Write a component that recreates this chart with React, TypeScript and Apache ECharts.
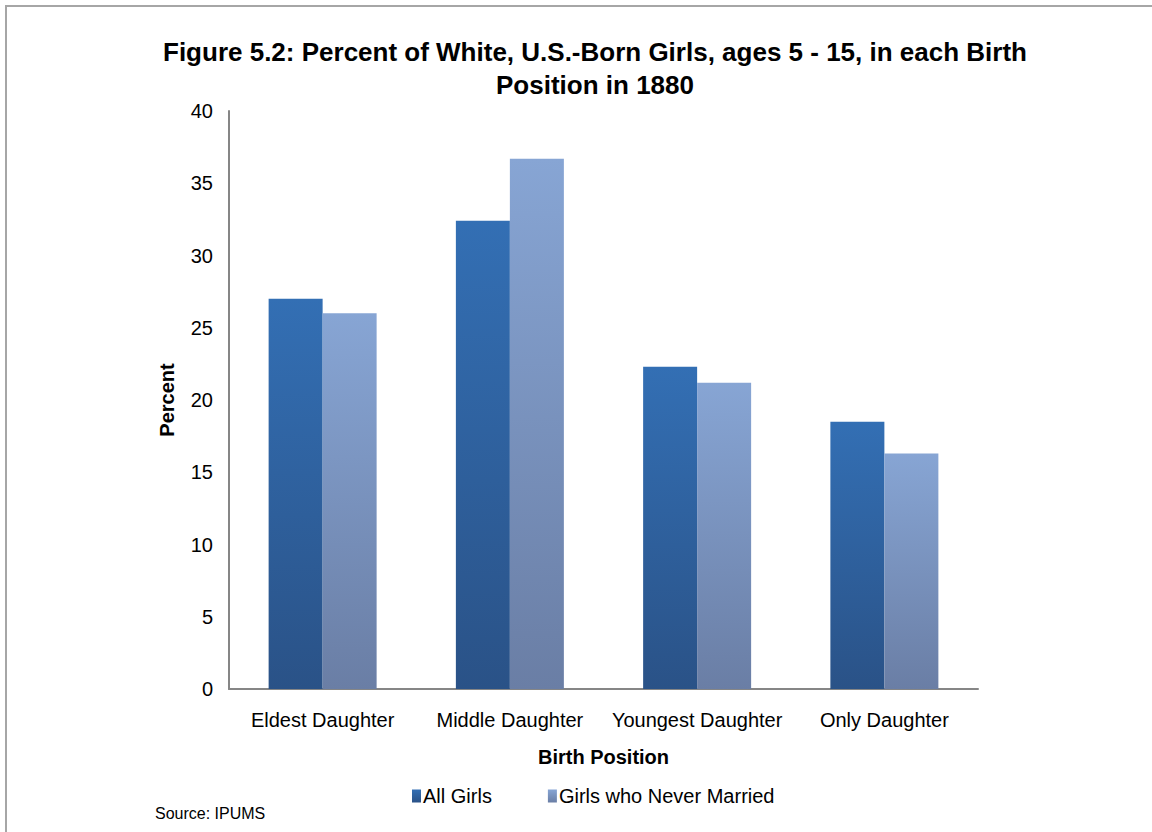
import React, { useEffect, useRef } from "react";
import * as echarts from "echarts";

const categories = ["Eldest Daughter", "Middle Daughter", "Youngest Daughter", "Only Daughter"];
const allGirls = [27.0, 32.4, 22.3, 18.5];
const neverMarried = [26.0, 36.7, 21.2, 16.3];
const seriesNames = ["All Girls", "Girls who Never Married"];

const FONT = "'Liberation Sans', Arial, sans-serif";

export default function App() {
  const ref = useRef<HTMLDivElement>(null);

  useEffect(() => {
    if (!ref.current) return;
    const chart = echarts.init(ref.current, null, { renderer: "svg" });
    const grad = (top: string, bottom: string) =>
      new echarts.graphic.LinearGradient(0, 0, 0, 1, [
        { offset: 0, color: top },
        { offset: 1, color: bottom },
      ]);
    chart.setOption({
      animation: false,
      backgroundColor: "#ffffff",
      textStyle: { fontFamily: FONT },
      title: {
        text: "Figure 5.2: Percent of White, U.S.-Born Girls, ages 5 - 15, in each Birth\nPosition in 1880",
        left: 590,
        textAlign: "center",
        top: 30,
        textStyle: {
          fontFamily: FONT,
          fontSize: 26,
          fontWeight: "bold",
          color: "#000000",
          lineHeight: 33,
        },
      },
      legend: {
        data: seriesNames,
        left: 407,
        top: 781,
        itemWidth: 9,
        itemHeight: 13,
        itemGap: 56,
        icon: "rect",
        textStyle: { fontFamily: FONT, fontSize: 20, color: "#000000", padding: [0, 0, 0, -3] },
      },
      grid: { left: 229, right: 174, top: 111, bottom: 143 },
      xAxis: {
        type: "category",
        data: categories,
        name: "Birth Position",
        nameLocation: "middle",
        nameGap: 58,
        nameTextStyle: { fontFamily: FONT, fontSize: 20, fontWeight: "bold", color: "#000000" },
        axisLine: { lineStyle: { color: "#868686", width: 2 } },
        axisTick: { show: false },
        axisLabel: { fontFamily: FONT, fontSize: 20, color: "#000000", margin: 21, interval: 0 },
      },
      yAxis: {
        type: "value",
        min: 0,
        max: 40,
        interval: 5,
        name: "Percent",
        nameLocation: "middle",
        nameGap: 52,
        nameTextStyle: { fontFamily: FONT, fontSize: 20, fontWeight: "bold", color: "#000000" },
        axisLine: { show: true, lineStyle: { color: "#868686", width: 2 } },
        axisTick: { show: false },
        splitLine: { show: false },
        axisLabel: { fontFamily: FONT, fontSize: 20, color: "#000000", margin: 16 },
      },
      series: [
        {
          name: seriesNames[0],
          type: "bar",
          data: allGirls,
          barWidth: 54,
          barGap: "0%",
          itemStyle: { color: grad("#336FB4", "#2A5287") },
        },
        {
          name: seriesNames[1],
          type: "bar",
          data: neverMarried,
          barWidth: 54,
          barGap: "0%",
          itemStyle: { color: grad("#87A5D4", "#6A7EA5") },
        },
      ],
      graphic: [
        {
          type: "rect",
          shape: { x: 6, y: 6, width: 1160, height: 840 },
          style: { fill: "none", stroke: "#A6A6A6", lineWidth: 2 },
          silent: true,
        },
        {
          type: "text",
          left: 155,
          top: 805,
          style: { text: "Source: IPUMS", font: "16px " + FONT, fill: "#000000" },
        },
      ],
    });
    return () => chart.dispose();
  }, []);

  return (
    <div
      ref={ref}
      style={{ position: "fixed", left: 0, top: 0, width: 1152, height: 832 }}
    />
  );
}
